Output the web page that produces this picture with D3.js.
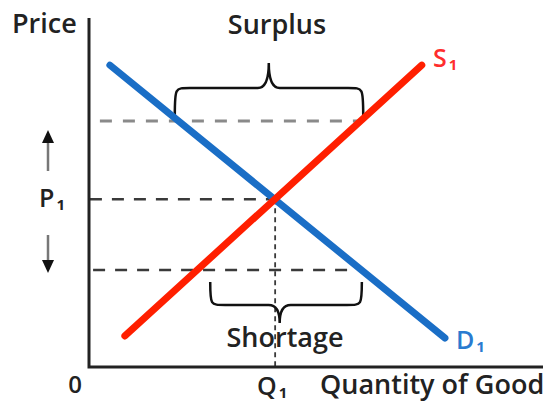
<!DOCTYPE html>
<html>
<head>
<meta charset="utf-8">
<script src="https://cdn.jsdelivr.net/npm/d3@7"></script>
<style>
  body { margin: 0; background: #fff; }
  text { font-family: "Open Sans", sans-serif; font-weight: 600; fill: #222; }
</style>
</head>
<body>
<div id="chart"></div>
<script>
// supply & demand curves, in chart units (quantity 0-100, price 0-100)
const demandQ = [4.6, 78.4];
const demandP = [86.5, 8.3];
const supplyQ = [7.9, 73.3];
const supplyP = [8.9, 86.5];

// equilibrium
const eqQ = 41.0;
const eqP = 48.1;

// price above / below equilibrium, with the span of the dashed guide
const highP = 70.5;
const highSpan = [2.4, 59.9];
const lowP = 27.8;
const lowSpan = [0.9, 59.0];

// brace spans (start, tip, end quantity)
const surplusSpan = [18.9, 39.6, 60.4];
const shortageSpan = [26.7, 42.0, 60.1];

const width = 555, height = 405;

const svg = d3.select("#chart").append("svg")
    .attr("width", width)
    .attr("height", height);

const x = d3.scaleLinear().domain([0, 100]).range([89, 543]);
const y = d3.scaleLinear().domain([0, 100]).range([367, 18]);

const line = d3.line()
    .x(d => x(d[0]))
    .y(d => y(d[1]));

// dashed guides
svg.append("line")
    .attr("x1", x(highSpan[0])).attr("x2", x(highSpan[1]))
    .attr("y1", y(highP)).attr("y2", y(highP))
    .attr("stroke", "#8a8a8a").attr("stroke-width", 3)
    .attr("stroke-dasharray", "12,11");

svg.append("line")
    .attr("x1", x(0.2)).attr("x2", x(eqQ))
    .attr("y1", y(eqP)).attr("y2", y(eqP))
    .attr("stroke", "#3a3a3a").attr("stroke-width", 2.5)
    .attr("stroke-dasharray", "12,10");

svg.append("line")
    .attr("x1", x(lowSpan[0])).attr("x2", x(lowSpan[1]))
    .attr("y1", y(lowP)).attr("y2", y(lowP))
    .attr("stroke", "#3a3a3a").attr("stroke-width", 2.5)
    .attr("stroke-dasharray", "12,10");

svg.append("line")
    .attr("x1", x(eqQ)).attr("x2", x(eqQ))
    .attr("y1", y(eqP)).attr("y2", y(0))
    .attr("stroke", "#3a3a3a").attr("stroke-width", 1.8)
    .attr("stroke-dasharray", "5,4");

// braces
const brace = (q, yEnd, yMid, yTip) => {
    const x0 = x(q[0]), xm = x(q[1]), x1 = x(q[2]);
    const r = 15, r2 = 11;
    return `M${x0},${yEnd} C${x0},${yMid} ${x0},${yMid} ${x0 + r},${yMid}`
        + ` L${xm - r2},${yMid} Q${xm},${yMid} ${xm},${yTip}`
        + ` Q${xm},${yMid} ${xm + r2},${yMid}`
        + ` L${x1 - r},${yMid} C${x1},${yMid} ${x1},${yMid} ${x1},${yEnd}`;
};

svg.append("path")
    .attr("d", brace(surplusSpan, y(highP) - 6, y(highP) - 33, y(highP) - 58))
    .attr("fill", "none").attr("stroke", "#111").attr("stroke-width", 2.5);

svg.append("path")
    .attr("d", brace(shortageSpan, y(lowP) + 12, y(lowP) + 35, y(lowP) + 53))
    .attr("fill", "none").attr("stroke", "#111").attr("stroke-width", 2.5);

// curves
svg.append("path")
    .datum(d3.zip(demandQ, demandP))
    .attr("d", line)
    .attr("fill", "none").attr("stroke", "#1a6ec6")
    .attr("stroke-width", 7).attr("stroke-linecap", "round");

svg.append("path")
    .datum(d3.zip(supplyQ, supplyP))
    .attr("d", line)
    .attr("fill", "none").attr("stroke", "#ff1f00")
    .attr("stroke-width", 7).attr("stroke-linecap", "round");

// axes
svg.append("path")
    .attr("d", `M${x(0)},${y(100)} V${y(0)} H${x(100)}`)
    .attr("fill", "none").attr("stroke", "#222").attr("stroke-width", 3);

// price arrows
const arrowX = 48;
svg.append("line")
    .attr("x1", arrowX).attr("x2", arrowX).attr("y1", 171).attr("y2", 140)
    .attr("stroke", "#777").attr("stroke-width", 2.5);
svg.append("path")
    .attr("d", `M${arrowX},130 L${arrowX - 6},143 L${arrowX + 6},143 Z`)
    .attr("fill", "#111");
svg.append("line")
    .attr("x1", arrowX).attr("x2", arrowX).attr("y1", 235).attr("y2", 262)
    .attr("stroke", "#777").attr("stroke-width", 2.5);
svg.append("path")
    .attr("d", `M${arrowX},273 L${arrowX - 6},260 L${arrowX + 6},260 Z`)
    .attr("fill", "#111");

// labels
const label = (tx, ty, txt, size, anchor) => svg.append("text")
    .attr("x", tx).attr("y", ty)
    .attr("text-anchor", anchor || "start")
    .style("font-size", size + "px")
    .text(txt);

label(12, 33, "Price", 27);
label(277, 34, "Surplus", 27, "middle");
label(285, 347, "Shortage", 27, "middle");
label(75, 393, "0", 24, "middle");
label(320, 394, "Quantity of Good", 27);

const sub = (tx, ty, main, s, size, color) => {
    const t = svg.append("text").attr("x", tx).attr("y", ty)
        .style("font-size", size + "px");
    if (color) t.style("fill", color);
    t.append("tspan").text(main);
    t.append("tspan").attr("dy", 3).attr("dx", 2)
        .style("font-size", (size * 0.6) + "px").style("font-weight", 700).text(s);
    return t;
};

sub(39, 207, "P", "1", 25);
sub(257, 395, "Q", "1", 25);
sub(433, 67, "S", "1", 25, "#ff2d2d");
sub(456, 349, "D", "1", 25, "#2a7bd0");
</script>
</body>
</html>
